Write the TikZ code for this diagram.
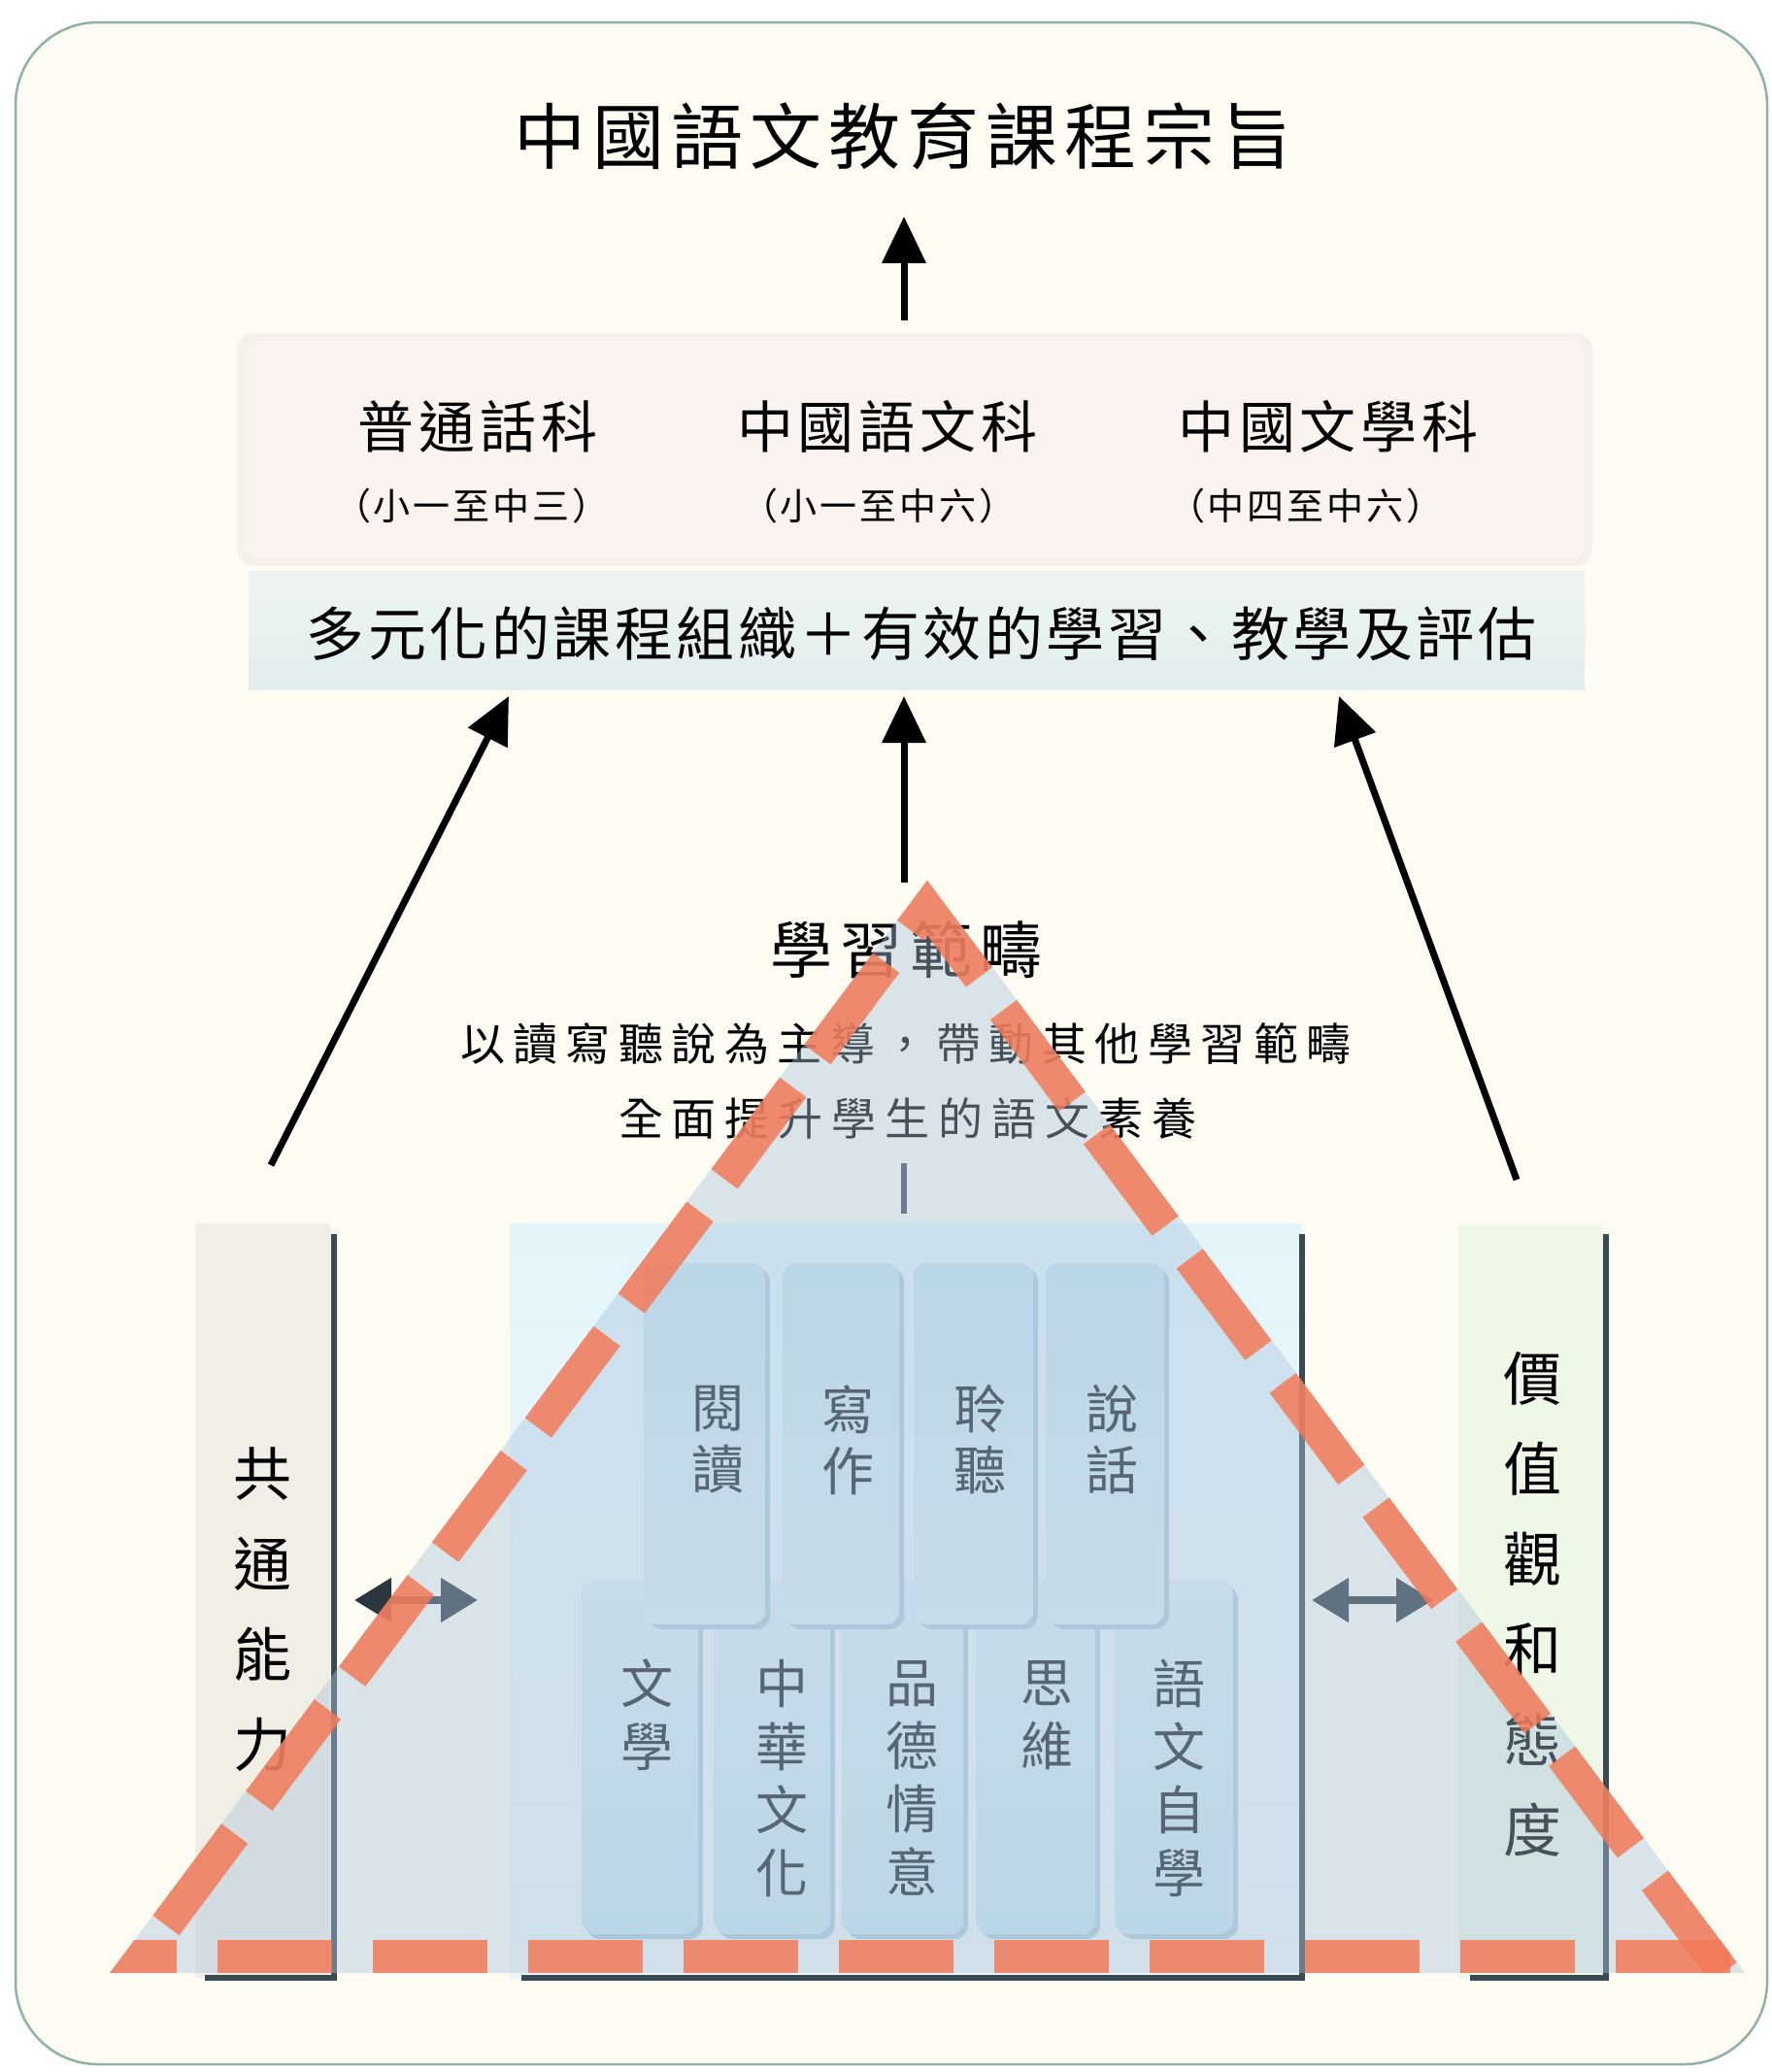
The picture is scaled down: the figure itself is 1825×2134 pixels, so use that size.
\documentclass[tikz,border=0pt]{standalone}
\usepackage{fontspec}
\setmainfont{Noto Sans CJK TC}
\usetikzlibrary{arrows.meta}
\definecolor{bordc}{HTML}{8DB3A3}
\definecolor{creamc}{HTML}{FCFCF3}
\definecolor{pinkc}{HTML}{F9F4EF}
\definecolor{pinkedge}{HTML}{F5F1EA}
\definecolor{tealtop}{HTML}{EDF5F2}
\definecolor{tealbot}{HTML}{E2EFEC}
\definecolor{leftcol}{HTML}{EFEFE5}
\definecolor{rightcol}{HTML}{EEF8E6}
\definecolor{areatop}{HTML}{E3F5FB}
\definecolor{areabot}{HTML}{EEF6F7}
\definecolor{boxa}{HTML}{C9E5F0}
\definecolor{boxb}{HTML}{DBEFF5}
\definecolor{shadc}{HTML}{B0CDDA}
\definecolor{darkln}{HTML}{3A4A52}
\definecolor{arrgray}{HTML}{2B363D}
\definecolor{veil}{RGB}{170,195,220}
\definecolor{salmon}{RGB}{242,122,89}
\definecolor{inktext}{HTML}{1A2328}
\newcommand\fsz[2]{\fontsize{#1pt}{#2pt}\selectfont}
\makeatletter
\newcommand\lsp[2]{\def\lsp@sep{\hspace{#1}}\lsp@first#2\relax}
\def\lsp@first#1{\ifx#1\relax\else#1\expandafter\lsp@next\fi}
\def\lsp@next#1{\ifx#1\relax\else\lsp@sep#1\expandafter\lsp@next\fi}
\makeatother
\begin{document}
\begin{tikzpicture}[x=1pt,y=-1pt,
  every node/.style={inner sep=0pt, outer sep=0pt},
  bigarrow/.style={draw=black, line width=7pt, -{Triangle[length=48pt,width=44pt]}},
  dblarrow/.style={draw=arrgray, line width=8pt, {Triangle[length=38pt,width=44pt]}-{Triangle[length=38pt,width=44pt]}},
  darkline/.style={draw=darkln, line width=6pt},
  topbox/.style={rounded corners=14pt, top color=boxa, bottom color=boxb},
  botbox/.style={rounded corners=14pt, top color=boxb, bottom color=boxa},
  shadowbox/.style={rounded corners=14pt, fill=shadc},
  vlabel/.style={align=center, text=inktext, font=\fsz{54}{63}},
  vlabelb/.style={align=center, text=inktext, font=\fsz{54}{65}},
  sidelabel/.style={align=center, text=black, font=\fsz{60}{93}},
  subj/.style={font=\fsz{58}{64}},
  subr/.style={font=\fsz{38}{42}},
  orangedash/.style={draw=salmon, opacity=0.85, line width=34pt, line join=miter, line cap=butt}
]
\useasboundingbox (0,0) rectangle (1825,2134);
\fill[white] (0,0) rectangle (1825,2134);
\draw[bordc, line width=2.5pt, fill=creamc, rounded corners=85pt] (16,23) rectangle (1820,2126);

% title
\node (title) at (931,140) {\fsz{74}{80}\lsp{7pt}{中國語文教育課程宗旨}};

% subject box
\fill[pinkedge, rounded corners=18pt] (244,343) rectangle (1640,583);
\fill[pinkc, rounded corners=12pt] (252,351) rectangle (1632,575);
\node[subj] (s1) at (492,439) {\lsp{5pt}{普通話科}};
\node[subj] (s2) at (914,439) {\lsp{5pt}{中國語文科}};
\node[subj] (s3) at (1368,439) {\lsp{5pt}{中國文學科}};
\node[subr] (r1) at (486,521) {\lsp{3pt}{（小一至中三）}};
\node[subr] (r2) at (905,521) {\lsp{3pt}{（小一至中六）}};
\node[subr] (r3) at (1345,521) {\lsp{3pt}{（中四至中六）}};

% teal box
\shade[top color=tealtop, bottom color=tealbot] (256,588) rectangle (1632,710);
\node (org) at (949,653) {\fsz{60}{66}\lsp{3.5pt}{多元化的課程組織＋有效的學習、教學及評估}};

% arrows
\coordinate (t0) at (931,330); \coordinate (t1) at (931,223);
\coordinate (l0) at (279,1200); \coordinate (l1) at (524,717);
\coordinate (m0) at (931,909); \coordinate (m1) at (931,717);
\coordinate (r0) at (1562,1215); \coordinate (r1c) at (1379,717);
\draw[bigarrow] (t0) -- (t1);
\draw[bigarrow] (l0) -- (l1);
\draw[bigarrow] (m0) -- (m1);
\draw[bigarrow] (r0) -- (r1c);

% lower structure
\fill[leftcol] (201,1260) rectangle (340,2037);
\fill[rightcol] (1502,1262) rectangle (1650,2037);
\shade[top color=areatop, bottom color=areabot] (525,1260) rectangle (1341,2037);

% bottom row boxes
\foreach \xa/\xb in {599/719, 735/855, 867/992, 1005/1128, 1148/1270} {
  \fill[shadowbox] (\xa+5,1633) rectangle (\xb+5,1997);
  \shade[botbox] (\xa,1628) rectangle (\xb,1992);
}
% top row boxes
\foreach \xa/\xb in {663/788, 806/926, 941/1064, 1077/1199} {
  \fill[shadowbox] (\xa+5,1306) rectangle (\xb+5,1678);
  \shade[topbox] (\xa,1301) rectangle (\xb,1673);
}
\node[vlabel] (yd) at (739,1483) {閱\\讀};
\node[vlabel] (xz) at (873,1483) {寫\\作};
\node[vlabel] (lt) at (1009,1483) {聆\\聽};
\node[vlabel] (sh) at (1145,1483) {說\\話};
\node[vlabelb] (wx) at (666,1766) {文\\學};
\node[vlabelb] (zh) at (805,1831) {中\\華\\文\\化};
\node[vlabelb] (pd) at (939,1831) {品\\德\\情\\意};
\node[vlabelb] (sw) at (1078,1767) {思\\維};
\node[vlabelb] (yw) at (1214,1831) {語\\文\\自\\學};

\node[sidelabel] (gt) at (270,1658) {共\\通\\能\\力};
\node[sidelabel] (jz) at (1578,1652) {價\\值\\觀\\和\\態\\度};

\draw[darkline] (344,1271) -- (344,2037) -- (211,2037);
\draw[darkline] (1654,1271) -- (1654,2037) -- (1514,2037);
\draw[darkline] (1341,1271) -- (1341,2037) -- (537,2037);
\coordinate (tk0) at (931,1198); \coordinate (tk1) at (931,1250);
\draw[darkline] (tk0) -- (tk1);

\coordinate (da0) at (365,1648); \coordinate (da1) at (492,1648);
\coordinate (db0) at (1351,1648); \coordinate (db1) at (1476,1648);
\draw[dblarrow] (da0) -- (da1);
\draw[dblarrow] (db0) -- (db1);

% learning area texts
\node (lf) at (933,978) {\fsz{64}{70}\lsp{8pt}{學習範疇}};
\node (lf2) at (933,1075) {\fsz{46}{50}\lsp{8.5pt}{以讀寫聽說為主導，帶動其他學習範疇}};
\node (lf3) at (935,1152) {\fsz{46}{50}\lsp{9pt}{全面提升學生的語文素養}};

% triangle veil and dashed outline
\fill[veil, opacity=0.42] (955,906.6) -- (113,2032) -- (1797,2032) -- cycle;
\begin{scope}
  \clip (955,906.6) -- (113,2032) -- (1797,2032) -- cycle;
  % two sides: from bottom-left corner over the apex to beyond the bottom-right corner
  \draw[orangedash, dash pattern=on 118pt off 42pt, dash phase=120pt]
    (147,2015) -- (955,935) -- (1787,2047);
  % base
  \draw[orangedash, dash pattern=on 118pt off 42pt, dash phase=156pt]
    (60,2015) -- (1850,2015);
\end{scope}
\end{tikzpicture}
\end{document}
